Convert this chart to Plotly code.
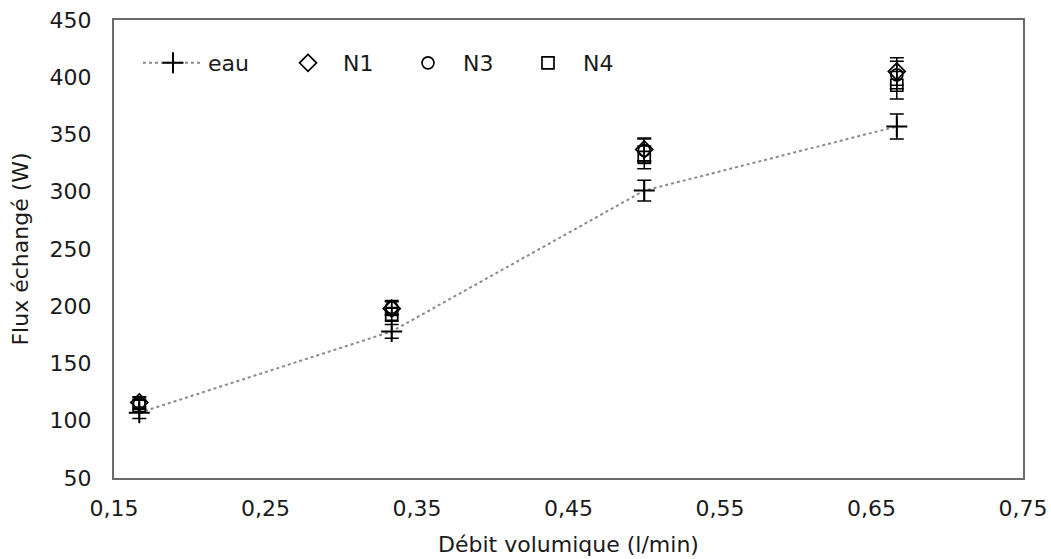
import plotly.graph_objects as go

debit = [0.1667, 0.3333, 0.5, 0.6667]
eau = [107, 178, 301, 357]
eau_err = [5, 6, 9, 11]
n1 = [116, 198, 337, 405]
n1_err = [5, 6, 10, 12]
n3 = [115, 199, 336, 402]
n3_err = [5, 6, 10, 12]
n4 = [113, 193, 330, 393]
n4_err = [5, 6, 10, 12]

x_ticks = [0.15, 0.25, 0.35, 0.45, 0.55, 0.65, 0.75]
x_ticklabels = ["0,15", "0,25", "0,35", "0,45", "0,55", "0,65", "0,75"]
y_ticks = [50, 100, 150, 200, 250, 300, 350, 400, 450]

FONT = "DejaVu Sans"
FS = 22
TXT = "#1a1a1a"
W, H = 1051, 559
# plot area in pixels: x 114..1023, y 20..478
ML, MT = 114, 20
MR = W - 1023
MB = H - 478
PW, PH = W - ML - MR, H - MT - MB


def px_x(s):
    return (s - ML) / PW


def px_y(s):
    return (H - MB - s) / PH


fig = go.Figure()

err_style = dict(type="data", thickness=1.5, width=7, color="black")

fig.add_trace(go.Scatter(
    x=debit, y=eau, name="eau", mode="lines+markers",
    line=dict(color="#8a8a8a", width=2, dash="dot"),
    marker=dict(symbol="cross-thin", size=15, line=dict(color="black", width=2), color="black"),
    error_y=dict(array=eau_err, **err_style),
    legend="legend", showlegend=True,
))

for name, vals, errs, sym, size in [
    ("N1", n1, n1_err, "diamond-open", 13),
    ("N3", n3, n3_err, "circle-open", 12),
    ("N4", n4, n4_err, "square-open", 12),
]:
    fig.add_trace(go.Scatter(
        x=debit, y=vals, name=name, mode="markers",
        marker=dict(symbol=sym, size=size, color="black", line=dict(color="black", width=1.7)),
        error_y=dict(array=errs, **err_style),
        legend="legend2", showlegend=True,
    ))

axis_common = dict(
    showline=True, mirror=True, linecolor="#6a6a6a", linewidth=2,
    showgrid=False, zeroline=False, ticks="", automargin=False,
    ticklabeloverflow="allow",
    tickfont=dict(family=FONT, size=FS, color=TXT),
)

fig.update_layout(
    width=W, height=H,
    margin=dict(l=ML, r=MR, t=MT, b=MB, autoexpand=False),
    paper_bgcolor="white", plot_bgcolor="white",
    showlegend=True,
    font=dict(family=FONT, size=FS, color=TXT),
    xaxis=dict(
        range=[0.15, 0.75], tickvals=x_ticks, ticktext=x_ticklabels,
        ticklabelstandoff=10,
        title=dict(text="Débit volumique (l/min)", font=dict(family=FONT, size=FS, color=TXT), standoff=16),
        **axis_common,
    ),
    yaxis=dict(
        range=[50, 450], tickvals=y_ticks,
        ticklabelstandoff=16,
        title=dict(text="Flux échangé (W)", font=dict(family=FONT, size=FS, color=TXT), standoff=15),
        **axis_common,
    ),
    legend=dict(
        x=px_x(138), y=px_y(63), xanchor="left", yanchor="middle",
        orientation="h", itemwidth=60, bgcolor="rgba(0,0,0,0)",
        font=dict(family=FONT, size=FS, color=TXT),
    ),
    legend2=dict(
        x=px_x(273), y=px_y(63), xanchor="left", yanchor="middle",
        orientation="h", itemwidth=60, entrywidth=45, entrywidthmode="pixels",
        bgcolor="rgba(0,0,0,0)",
        font=dict(family=FONT, size=FS, color=TXT),
    ),
)

fig.write_html(
    "out.html",
    config={"displayModeBar": False},
    post_script="document.body.style.margin='0';document.body.style.overflow='hidden';",
)
